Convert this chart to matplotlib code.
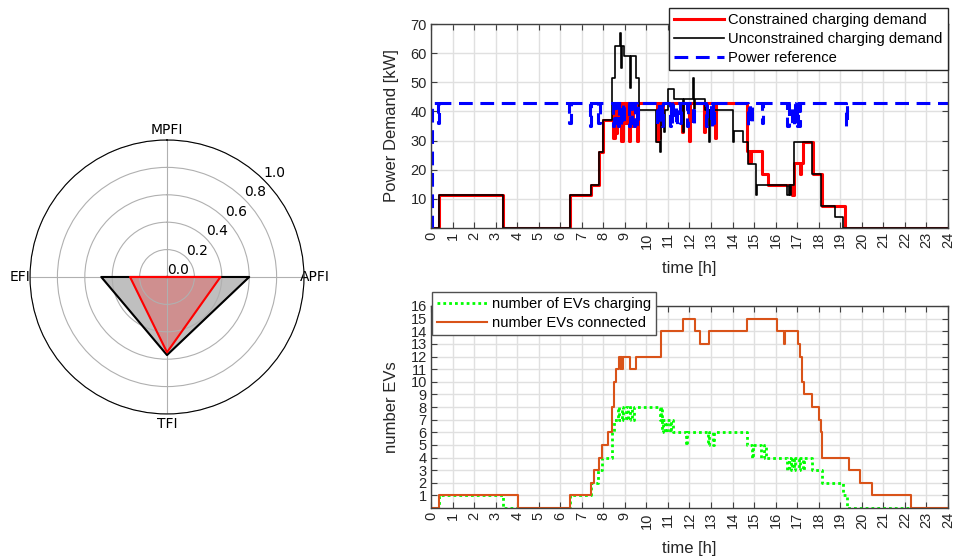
import numpy as np
import matplotlib
matplotlib.use('Agg')
import matplotlib.pyplot as plt

# ---- radar data ----
radar_labels = ['MPFI', 'APFI', 'TFI', 'EFI']
radar_unconstrained = [0.0, 0.6, 0.57, 0.48]
radar_constrained = [0.0, 0.39, 0.55, 0.27]
radar_ticks = [0.0, 0.2, 0.4, 0.6, 0.8, 1.0]

# ---- power demand [kW], step series (time h, value) ----
constr_t = [0, 0.39, 3.36, 6.47, 7.43, 7.79, 8.0, 8.43, 8.47, 8.52, 8.58, 8.63, 8.7, 8.74,
            8.84, 8.9, 9.02, 9.08, 9.2, 9.26, 9.33, 9.38, 9.55, 9.62, 10.48, 10.54, 10.6,
            10.65, 10.72, 10.77, 11.66, 11.71, 11.98, 12.04, 12.68, 12.73, 13.17, 13.23,
            14.68, 14.78, 14.85, 15.35, 15.66, 16.78, 16.85, 17.13, 17.2, 17.28, 17.72,
            18.13, 19.2, 24]
constr_v = [0, 11.3, 0, 11.3, 14.7, 26, 36.9, 43, 31, 43, 32.5, 43, 37, 43,
            29.7, 43, 36, 43, 30, 43, 35, 43, 30, 43, 30, 43, 31,
            43, 35, 43, 33, 43, 30, 43, 33, 43, 31, 43,
            26.3, 22.5, 26.3, 18.4, 14.7, 11.3, 22.3, 18.6, 22.3, 29.5, 18.4,
            7.4, 0, 0]

unconstr_t = [0, 0.39, 3.36, 6.47, 7.43, 7.79, 8.0, 8.39, 8.54, 8.78, 8.82, 8.86, 8.96,
              9.22, 9.27, 9.5, 9.66, 10.45, 10.63, 10.68, 10.8, 10.85, 11.02, 11.3, 11.68,
              11.73, 12.15, 12.2, 12.25, 12.72, 12.9, 12.95, 14.0, 14.05, 14.5, 14.72,
              15.09, 15.12, 16.55, 16.6, 16.65, 16.7, 16.87, 17.67, 18.1, 18.76, 19.11, 24]
unconstr_v = [0, 11.3, 0, 11.3, 14.7, 26, 36.9, 51.5, 62.6, 67, 55, 62.6, 59,
              48, 59, 51.5, 40.6, 29.5, 26, 36.9, 33, 40.6, 47.7, 44.2, 33,
              44.2, 51.5, 41, 44.2, 40.6, 29.4, 40.6, 29.4, 33.2, 29.4, 22.1,
              11.3, 14.7, 11.3, 14.7, 11.3, 14.7, 29.5, 18.6, 7.6, 3.9, 0, 0]

ref_t = [0, 0.05, 0.31, 0.38, 6.42, 6.48, 7.37, 7.43, 7.77, 7.83, 8.43, 8.48, 8.53, 8.58,
         8.68, 8.73, 8.83, 8.88, 8.93, 8.98, 9.18, 9.23, 9.28, 9.33, 9.43, 9.48, 9.58, 9.63,
         10.48, 10.53, 10.58, 10.63, 10.73, 10.78, 11.08, 11.13, 11.18, 11.23, 11.38, 11.43,
         11.58, 11.63, 11.88, 11.93, 12.18, 12.23, 12.78, 12.83, 12.98, 13.03, 13.08, 13.13,
         14.73, 14.78, 14.83, 14.88, 15.38, 15.43, 16.55, 16.6, 16.78, 16.83, 16.88, 16.93,
         16.98, 17.03, 17.08, 17.13, 19.28, 19.33, 24]
ref_v = [0, 43, 36, 43, 36, 43, 35, 43, 36, 43, 35, 43, 36, 43,
         35, 43, 35, 43, 36, 43, 35, 43, 36, 43, 35, 43, 35, 43,
         35, 43, 36, 43, 35, 43, 35, 43, 36, 43, 35, 43,
         36, 43, 35, 43, 35, 43, 35, 43, 35, 43, 36, 43,
         35, 43, 36, 43, 36, 43, 35, 43, 35, 43, 36, 43,
         35, 43, 35, 43, 35, 43, 43]

# ---- number of EVs, step series ----
conn_t = [0, 0.37, 4.02, 6.47, 7.43, 7.57, 7.79, 7.93, 8.22, 8.39, 8.51, 8.59, 8.75, 8.8,
          8.83, 8.87, 8.9, 9.24, 9.5, 10.67, 11.68, 12.26, 12.49, 12.91, 14.69, 16.08,
          16.39, 16.42, 17.02, 17.13, 17.24, 17.32, 17.69, 18.01, 18.09, 18.16, 19.42,
          19.93, 20.49, 22.27, 24]
conn_v = [0, 1, 0, 1, 2, 3, 4, 5, 6, 8, 10, 11, 12, 11,
          12, 11, 12, 11, 12, 14, 15, 14, 13, 14, 15, 14,
          13, 14, 13, 12, 10, 9, 8, 7, 6, 4, 3,
          2, 1, 0, 0]

charg_t = [0, 0.37, 3.33, 6.47, 7.45, 7.77, 7.93, 8.42, 8.5, 8.7, 8.75, 8.85, 8.9, 9.05,
           9.15, 9.25, 9.35, 9.42, 10.63, 10.68, 10.72, 10.78, 10.85, 10.95, 11.1, 11.15,
           11.25, 11.85, 11.9, 12.85, 12.9, 13.08, 13.13, 14.66, 14.9, 14.95, 15.3, 15.45,
           15.55, 16.55, 16.6, 16.7, 16.75, 16.85, 16.9, 17.1, 17.15, 17.28, 17.33, 17.67,
           18.13, 19.14, 19.3, 24]
charg_v = [0, 1, 0, 1, 2, 3, 4, 6, 7, 8, 7, 8, 7, 8,
           7, 8, 7, 8, 7, 8, 6, 7, 6, 7, 6, 7,
           6, 5, 6, 5, 6, 5, 6, 5, 4, 5, 4, 5,
           4, 3, 4, 3, 4, 3, 4, 3, 4, 3, 4, 3,
           2, 1, 0, 0]

hours = list(range(25))

RF = 'Liberation Sans'
AXC = '#404040'
TXT = '#262626'

fig = plt.figure(figsize=(9.56, 5.59), dpi=100)

# ---------------- radar ----------------
axr = fig.add_axes([0.0314, 0.2594, 0.2866, 0.4902], projection='polar')
theta = np.linspace(0, 2 * np.pi, len(radar_labels), endpoint=False)
th = np.append(theta, theta[0])
uc = radar_unconstrained + radar_unconstrained[:1]
cc = radar_constrained + radar_constrained[:1]
axr.set_theta_offset(np.pi / 2)
axr.set_theta_direction(-1)
axr.fill(th, uc, color='black', alpha=0.25)
axr.plot(th, uc, color='black', lw=1.5)
axr.fill(th, cc, color='red', alpha=0.25)
axr.plot(th, cc, color='red', lw=1.5)
axr.set_xticks(theta)
axr.set_xticklabels(radar_labels, fontsize=10)
axr.set_ylim(0, 1)
axr.set_yticks(radar_ticks)
axr.set_yticklabels(['%.1f' % v for v in radar_ticks], fontsize=10)
axr.set_rlabel_position(45)
axr.tick_params(axis='x', pad=-3)
axr.spines['polar'].set_color('black')

# ---------------- styling for MATLAB-like axes ----------------
def style(ax, yt, ylim):
    ax.set_xlim(0, 24)
    ax.set_ylim(*ylim)
    ax.set_xticks(hours, [str(h) for h in hours], rotation=90, fontsize=10.5, fontfamily=RF, color=TXT)
    ax.set_yticks(yt, [str(v) for v in yt], fontsize=10.5, fontfamily=RF, color=TXT)
    ax.grid(True, color='#e0e0e0', lw=1)
    ax.set_axisbelow(True)
    ax.tick_params(direction='in', top=True, right=True, length=4, color=AXC, pad=3)
    for s in ax.spines.values():
        s.set_color(AXC)
        s.set_linewidth(1)
    ax.set_xlabel('time [h]', fontsize=12, fontfamily=RF, color=TXT, labelpad=9)

legend_kw = dict(borderaxespad=0, prop={'family': RF, 'size': 10.6}, fancybox=False,
                 framealpha=1, handlelength=3.4, labelspacing=0.33, borderpad=0.35,
                 handletextpad=0.3)

# ---------------- power demand ----------------
ax1 = fig.add_axes([0.4508, 0.5921, 0.5408, 0.3649])
ax1.plot(constr_t, constr_v, drawstyle='steps-post', color='red', lw=2.2,
         label='Constrained charging demand')
ax1.plot(unconstr_t, unconstr_v, drawstyle='steps-post', color='black', lw=1.2,
         label='Unconstrained charging demand')
ax1.plot(ref_t, ref_v, drawstyle='steps-post', color='blue', lw=2.2, dashes=(4.5, 2.5),
         label='Power reference')
style(ax1, [10, 20, 30, 40, 50, 60, 70], (0, 70))
ax1.set_ylabel('Power Demand [kW]', fontsize=12, fontfamily=RF, color=TXT, labelpad=8)
leg1 = ax1.legend(loc='upper right', bbox_to_anchor=(1.0, 1.078), edgecolor=TXT, **legend_kw)
leg1.get_frame().set_linewidth(1)

# ---------------- number of EVs ----------------
ax2 = fig.add_axes([0.4508, 0.0912, 0.5408, 0.3614])
ax2.plot(charg_t, charg_v, drawstyle='steps-post', color='#00ff00', lw=2,
         dashes=(1, 1.1), label='number of EVs charging')
ax2.plot(conn_t, conn_v, drawstyle='steps-post', color='#d95319', lw=1.5,
         label='number EVs connected')
style(ax2, list(range(1, 17)), (0, 16))
ax2.set_ylabel('number EVs', fontsize=12, fontfamily=RF, color=TXT, labelpad=8)
leg2 = ax2.legend(loc='upper left', bbox_to_anchor=(0.002, 1.069), edgecolor='#505050', **legend_kw)
leg2.get_frame().set_linewidth(1)

fig.savefig('out.png', dpi=100)
